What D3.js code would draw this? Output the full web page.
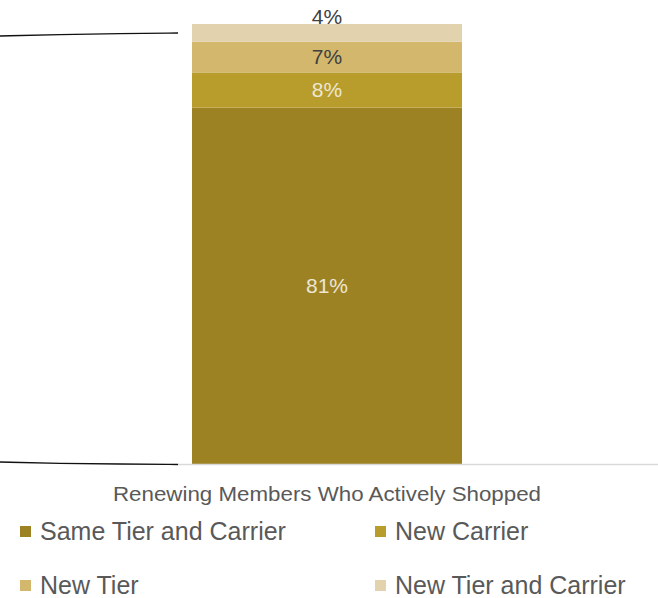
<!DOCTYPE html>
<html>
<head>
<meta charset="utf-8">
<script src="https://cdn.jsdelivr.net/npm/d3@7"></script>
<style>
  body { margin: 0; background: #fff; }
  svg { display: block; }
</style>
</head>
<body>
<div id="chart"></div>
<script>
const category = "Renewing Members Who Actively Shopped";
const series = ["Same Tier and Carrier", "New Carrier", "New Tier", "New Tier and Carrier"];
const values = [81, 8, 7, 4];
const colors = ["#9C8223", "#B89D2C", "#D3B76D", "#E2D2AE"];
const labelColors = ["#EDE6D3", "#EDE6D3", "#404040", "#404040"];

const width = 658, height = 598;

const svg = d3.select('#chart')
  .append('svg')
  .attr('width', width)
  .attr('height', height);

const x = d3.scaleBand()
  .domain([category])
  .range([192, 462])
  .padding(0);

const y = d3.scaleLinear()
  .domain([0, 100])
  .range([464, 24]);

// stack
let acc = 0;
const stacked = values.map((v, i) => {
  const d = { name: series[i], value: v, y0: acc, y1: acc + v, i: i };
  acc += v;
  return d;
});

// connector lines from the left (series lines)
const line = d3.line().curve(d3.curveBasis);
svg.append('path')
  .attr('d', line([[0, 36], [60, 34.5], [120, 33.5], [178, 33]]))
  .attr('fill', 'none')
  .attr('stroke', '#111')
  .attr('stroke-width', 1.3);
svg.append('path')
  .attr('d', line([[0, 462], [60, 463.5], [120, 464], [178, 464.5]]))
  .attr('fill', 'none')
  .attr('stroke', '#111')
  .attr('stroke-width', 1.3);

svg.selectAll('rect.seg')
  .data(stacked)
  .enter()
  .append('rect')
  .attr('class', 'seg')
  .attr('x', x(category))
  .attr('y', d => y(d.y1))
  .attr('width', x.bandwidth())
  .attr('height', d => y(d.y0) - y(d.y1))
  .attr('fill', d => colors[d.i]);

// axis baseline
svg.append('line')
  .attr('x1', 178).attr('x2', width)
  .attr('y1', y(0) + 0.5).attr('y2', y(0) + 0.5)
  .attr('stroke', '#D9D9D9')
  .attr('stroke-width', 1.5);

// data labels
svg.selectAll('text.lbl')
  .data(stacked)
  .enter()
  .append('text')
  .attr('class', 'lbl')
  .attr('x', x(category) + x.bandwidth() / 2)
  .attr('y', d => d.i === 3 ? y(d.y1) - 7 : (y(d.y0) + y(d.y1)) / 2)
  .attr('dy', '.35em')
  .attr('text-anchor', 'middle')
  .attr('font-family', 'Liberation Sans, Arial, sans-serif')
  .attr('font-size', 21)
  .attr('fill', d => labelColors[d.i])
  .text(d => d.value + '%');

// category label
svg.append('text')
  .attr('x', x(category) + x.bandwidth() / 2)
  .attr('y', 494)
  .attr('dy', '.35em')
  .attr('text-anchor', 'middle')
  .attr('font-family', 'Liberation Sans, Arial, sans-serif')
  .attr('font-size', 21)
  .attr('textLength', 428)
  .attr('lengthAdjust', 'spacingAndGlyphs')
  .attr('fill', '#595959')
  .text(category);

// legend
const legendPos = [[20, 531], [375, 531], [20, 585], [375, 585]];
const leg = svg.selectAll('g.leg')
  .data(series)
  .enter()
  .append('g')
  .attr('class', 'leg')
  .attr('transform', (d, i) => `translate(${legendPos[i][0]},${legendPos[i][1]})`);

leg.append('rect')
  .attr('x', 0).attr('y', -5)
  .attr('width', 11).attr('height', 11)
  .attr('fill', (d, i) => colors[i]);

leg.append('text')
  .attr('x', 20)
  .attr('y', 0)
  .attr('dy', '.35em')
  .attr('font-family', 'Liberation Sans, Arial, sans-serif')
  .attr('font-size', 25)
  .attr('fill', '#595959')
  .text(d => d);
</script>
</body>
</html>
